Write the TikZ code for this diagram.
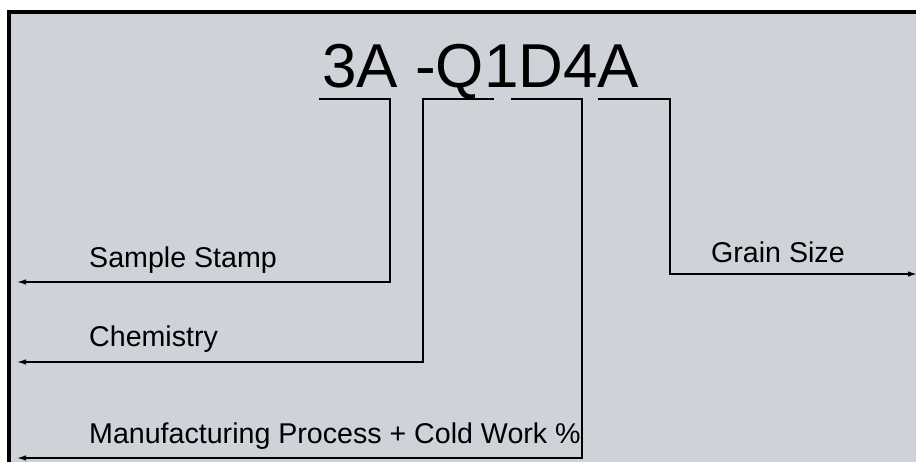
\documentclass[tikz,border=0pt]{standalone}
\usepackage{fontspec}
\setmainfont{Liberation Sans}
\usetikzlibrary{arrows.meta}
\definecolor{panel}{RGB}{207,210,217}
\tikzset{
  code/.style={inner sep=0pt, anchor=base west, font=\fontsize{62}{64}\selectfont},
  field/.style={inner sep=0pt, anchor=base west, font=\fontsize{28.6}{30}\selectfont},
  lead/.style={line width=1.4pt, -{Latex[length=9pt,width=5.5pt]}},
}
\begin{document}
\begin{tikzpicture}[x=1pt, y=-1pt]
\useasboundingbox (0,0) rectangle (916,462);
\clip (0,0) rectangle (916,462);
\draw[line width=4pt, fill=panel] (9,12) rectangle (940,490);

\node[code] (tag) at (322,88) {3A -Q1D4A};

\node[field] (stamp) at (89,268) {Sample Stamp};
\node[field] (chem) at (89,347) {Chemistry};
\node[field] (mfg) at (89,443) {Manufacturing Process + Cold Work \%};
\node[field] (grain) at (711,263) {Grain Size};

% underlines below the code
\coordinate (stampA) at (319,99); \coordinate (stampB) at (390,99);
\coordinate (chemA) at (494,99);  \coordinate (chemB) at (423,99);
\coordinate (mfgA) at (511,99);   \coordinate (mfgB) at (582,99);
\coordinate (grainA) at (598,99); \coordinate (grainB) at (670,99);

% free ends of the leaders
\coordinate (stampE) at (17,282);
\coordinate (chemE) at (17,362);
\coordinate (mfgE) at (17,458);
\coordinate (grainE) at (917,274);

\draw[lead] (stampA) -- (stampB) |- (stampE);
\draw[lead] (chemA) -- (chemB) |- (chemE);
\draw[lead] (mfgA) -- (mfgB) |- (mfgE);
\draw[lead] (grainA) -- (grainB) |- (grainE);
\end{tikzpicture}
\end{document}
